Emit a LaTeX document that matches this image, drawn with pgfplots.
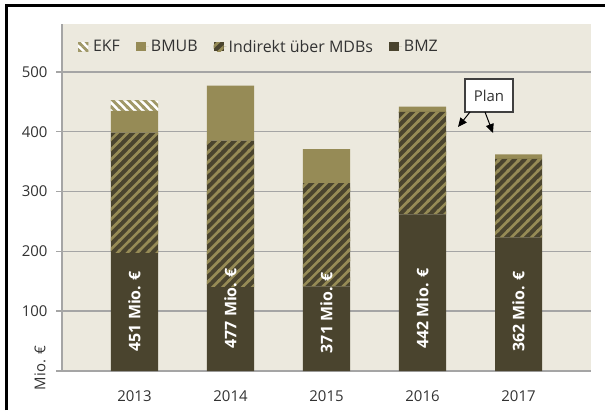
\documentclass[border=0pt]{standalone}
\usepackage{fontspec}
\setmainfont{Open Sans}
\usepackage{pgfplots}
\pgfplotsset{compat=1.18}
\usetikzlibrary{patterns,arrows.meta}
\definecolor{bgc}{RGB}{236,233,222}
\definecolor{gridc}{RGB}{165,165,165}
\definecolor{bmz}{RGB}{74,68,46}
\definecolor{bmub}{RGB}{150,139,86}
\definecolor{ekfc}{RGB}{160,152,104}
\definecolor{txt}{RGB}{50,50,50}

\pgfdeclarepatternformonly{indlines}{\pgfqpoint{-1pt}{-1pt}}{\pgfqpoint{11pt}{11pt}}{\pgfqpoint{10pt}{10pt}}{%
  \pgfsetlinewidth{2.6pt}%
  \pgfpathmoveto{\pgfqpoint{-1pt}{-1pt}}\pgfpathlineto{\pgfqpoint{11pt}{11pt}}%
  \pgfpathmoveto{\pgfqpoint{-1pt}{9pt}}\pgfpathlineto{\pgfqpoint{1pt}{11pt}}%
  \pgfpathmoveto{\pgfqpoint{9pt}{-1pt}}\pgfpathlineto{\pgfqpoint{11pt}{1pt}}%
  \pgfusepath{stroke}}
\pgfdeclarepatternformonly{ekflines}{\pgfqpoint{-1pt}{-1pt}}{\pgfqpoint{9pt}{9pt}}{\pgfqpoint{8pt}{8pt}}{%
  \pgfsetlinewidth{2.8pt}%
  \pgfpathmoveto{\pgfqpoint{-1pt}{9pt}}\pgfpathlineto{\pgfqpoint{9pt}{-1pt}}%
  \pgfpathmoveto{\pgfqpoint{-1pt}{1pt}}\pgfpathlineto{\pgfqpoint{1pt}{-1pt}}%
  \pgfpathmoveto{\pgfqpoint{7pt}{9pt}}\pgfpathlineto{\pgfqpoint{9pt}{7pt}}%
  \pgfusepath{stroke}}

\pgfplotstableread{
x bmz ind bmub ekf
0 197 201.5 36.5 16.5
1 140 245 92 0
2 141 173 57 0
3 262 171 9 0
4 223 131.5 7.5 0
}\mydata

\begin{document}
\begin{tikzpicture}[x=1bp,y=1bp]
\path[use as bounding box] (0,0) rectangle (608,410);
\begin{axis}[
  at={(62bp,39bp)}, anchor=south west,
  scale only axis, width=529bp, height=347bp,
  ymin=0, ymax=580, xmin=-0.755, xmax=4.755,
  ybar stacked, bar width=0.49,
  axis background/.style={fill=bgc},
  axis x line*=bottom, axis y line*=left,
  axis line style={draw=gridc, line width=1.5bp},
  ytick={0,100,...,500}, yticklabels={{},100,200,300,400,500}, ymajorgrids,
  grid style={draw=gridc, line width=1.5bp},
  xtick={0,...,4}, xticklabels={2013,2014,2015,2016,2017},
  xtick style={draw=none}, ytick style={draw=gridc, line width=1.5bp},
  tick align=outside, major tick length=6bp,
  tick label style={font=\fontsize{15}{17}\selectfont, text=txt},
  yticklabel style={xshift=-5bp},
  xticklabel style={yshift=-10bp},
  /pgf/number format/assume math mode=true,
  reverse legend,
  legend columns=4,
  legend style={at={(0.03,0.934)}, anchor=west, draw=none, fill=none,
    inner sep=0pt, font=\fontsize{16}{18}\selectfont, text=txt,
    /tikz/every even column/.append style={column sep=14bp}},
  legend image code/.code={\fill[#1] (0bp,-4.5bp) rectangle (10bp,4.5bp); \path (0bp,0bp) -- (13bp,0bp);},
]
\addplot[fill=bmz, draw=none] table[x=x,y=bmz] {\mydata};
\addlegendentry{BMZ}
\addplot[fill=bmz, draw=none, postaction={pattern=indlines, pattern color=bmub}] table[x=x,y=ind] {\mydata};
\addlegendentry{Indirekt über MDBs}
\addplot[fill=bmub, draw=none] table[x=x,y=bmub] {\mydata};
\addlegendentry{BMUB}
\addplot[fill=white, draw=none, postaction={pattern=ekflines, pattern color=ekfc}] table[x=x,y=ekf] {\mydata};
\addlegendentry{EKF}
\coordinate (l0) at (axis cs:0,100);
\coordinate (l1) at (axis cs:1,105);
\coordinate (l2) at (axis cs:2,97);
\coordinate (l3) at (axis cs:3,104);
\coordinate (l4) at (axis cs:4,99);
\end{axis}
\begin{scope}[every node/.style={rotate=90, text=white, font=\bfseries\fontsize{16}{18}\selectfont}]
\node at (l0) {451 Mio. €};
\node at (l1) {477 Mio. €};
\node at (l2) {371 Mio. €};
\node at (l3) {442 Mio. €};
\node at (l4) {362 Mio. €};
\end{scope}
\node[rotate=90, text=txt, font=\fontsize{15}{17}\selectfont] at (40,42) {Mio. €};
\draw[line width=3bp] (6,0) -- (6,404.7) -- (605,404.7);
\node[draw=black!75, line width=1.2bp, fill=white, minimum width=48bp, minimum height=33bp, inner sep=0pt, text=txt, font=\fontsize{15}{17}\selectfont] at (489,314.5) {Plan};
\draw[-{Triangle[length=9bp,width=8bp]}, line width=1bp] (470,298) -- (458,283);
\draw[-{Triangle[length=9bp,width=8bp]}, line width=1bp] (485,298) -- (493,277);
\end{tikzpicture}
\end{document}
